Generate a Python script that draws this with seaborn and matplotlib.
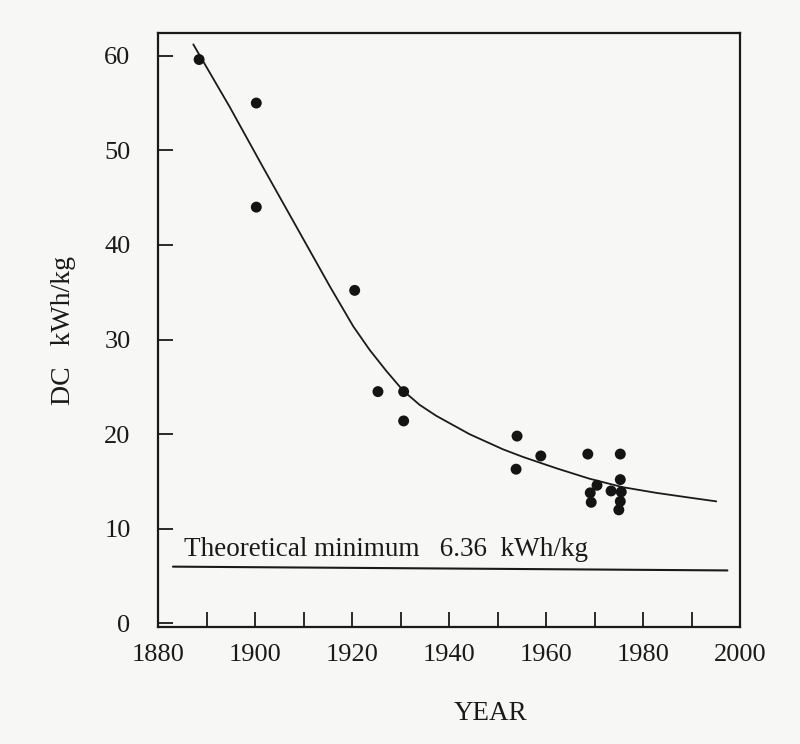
import numpy as np
import pandas as pd
import matplotlib
matplotlib.use("Agg")
import matplotlib.pyplot as plt
import seaborn as sns

# measured points (year, DC kWh/kg)
point_years = [1888.4, 1900.2, 1900.2, 1920.5, 1925.3, 1930.6, 1930.6,
               1954.0, 1953.8, 1958.9, 1968.6, 1975.3, 1975.3, 1970.5,
               1969.1, 1969.3, 1973.4, 1975.5, 1975.3, 1975.0]
point_values = [59.6, 55.0, 44.0, 35.2, 24.5, 24.5, 21.4,
                19.8, 16.3, 17.7, 17.9, 17.9, 15.2, 14.6,
                13.8, 12.8, 14.0, 13.9, 12.9, 12.0]

# fitted trend curve
curve_years = [1887.2, 1894.7, 1901.6, 1908.5, 1915.4, 1920.2, 1923.6,
               1927.0, 1930.5, 1933.9, 1937.3, 1944.2, 1951.1, 1955.2,
               1962.1, 1968.9, 1975.8, 1982.7, 1989.5, 1995.1]
curve_values = [61.2, 54.6, 48.2, 41.9, 35.6, 31.4, 28.9,
                26.7, 24.6, 23.1, 21.95, 20.0, 18.4, 17.6,
                16.4, 15.3, 14.4, 13.8, 13.3, 12.9]

# theoretical minimum line as drawn
min_years = [1883.0, 1997.4]
min_values = [6.0, 5.6]

x_ticks = [1880, 1900, 1920, 1940, 1960, 1980, 2000]
y_ticks = [0, 10, 20, 30, 40, 50, 60]

sns.set_style("ticks")
plt.rcParams['font.family'] = ['Liberation Serif', 'DejaVu Serif']
plt.rcParams['axes.facecolor'] = '#f7f7f5'
plt.rcParams['figure.facecolor'] = '#f7f7f5'

fig = plt.figure(figsize=(8, 7.44), dpi=100)
ax = fig.add_axes([0.198, 0.157, 0.727, 0.7986])

pts = pd.DataFrame({"year": point_years, "dc": point_values})
crv = pd.DataFrame({"year": curve_years, "dc": curve_values})
mn = pd.DataFrame({"year": min_years, "dc": min_values})

sns.lineplot(data=crv, x="year", y="dc", ax=ax, color="#1a1a1a", linewidth=1.3,
             sort=False, estimator=None)
sns.lineplot(data=mn, x="year", y="dc", ax=ax, color="#1a1a1a", linewidth=1.5,
             sort=False, estimator=None)
sns.scatterplot(data=pts, x="year", y="dc", ax=ax, color="#141414", s=62,
                edgecolor="none", zorder=3)

ax.text(1885.3, 7.1, "Theoretical minimum   6.36  kWh/kg", fontsize=19.5,
        color="#1a1a1a", ha="left", va="baseline")

ax.set_xlim(1880, 2000)
ax.set_ylim(-0.4, 62.4)
ax.set_xticks(x_ticks)
ax.set_xticks(np.arange(1890, 2000, 20), minor=True)
ax.set_yticks(y_ticks)
ax.tick_params(axis="both", which="both", direction="in", length=11, width=1.3,
               colors="#1a1a1a", labelsize=19)
ax.tick_params(axis="y", pad=20)
ax.tick_params(axis="x", pad=12)

for s in ax.spines.values():
    s.set_visible(True)
    s.set_linewidth(1.6)
    s.set_color("#1a1a1a")

ax.set_xlabel("YEAR", fontsize=19.5, color="#1a1a1a")
ax.xaxis.set_label_coords(0.571, -0.125)
ax.set_ylabel("DC   kWh/kg", fontsize=20, color="#1a1a1a", labelpad=20)

fig.savefig("out.png", dpi=100)
